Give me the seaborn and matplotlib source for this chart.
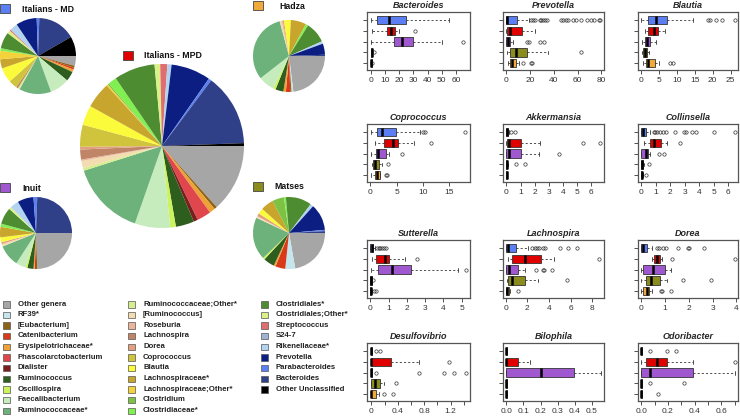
import matplotlib
matplotlib.use("Agg")
import matplotlib.pyplot as plt
from matplotlib.patches import Rectangle
import seaborn as sns

# ---- pie data: genus shares (in degrees), legend order ----
genera = ["Other genera", "RF39*", "[Eubacterium]", "Catenibacterium", "Erysipelotrichaceae*",
          "Phascolarctobacterium", "Dialister", "Ruminococcus", "Oscillospira", "Faecalibacterium",
          "Ruminococcaceae*", "Ruminococcaceae;Other*", "[Ruminococcus]", "Roseburia", "Lachnospira",
          "Dorea", "Coprococcus", "Blautia", "Lachnospiraceae*", "Lachnospiraceae;Other*",
          "Clostridium", "Clostridiaceae*", "Clostridiales*", "Clostridiales;Other*", "Streptococcus",
          "S24-7", "Rikenellaceae*", "Prevotella", "Parabacteroides", "Bacteroides", "Other Unclassified"]
genus_colors = ["#a6a6a6", "#c5e6ec", "#8c6418", "#d83a1a", "#eea236",
                "#e0474c", "#7a1e1e", "#2e5e1e", "#ccf25e", "#c6ecbe",
                "#6db27a", "#d6ee8e", "#f3dcb0", "#eab59a", "#c08466",
                "#e2a080", "#cfc43c", "#fbfb3c", "#c8a52c", "#f4d23a",
                "#7dc244", "#80f050", "#4e8c32", "#dcf08a", "#e06e6e",
                "#9fb4d4", "#b2d4f2", "#0c1e82", "#5c80f0", "#2f3f88", "#000000"]

md_share = [15, 0, 3, 3, 4, 0, 0, 15, 0, 30, 49, 3, 0, 0, 3, 0, 13, 23, 14, 13, 0, 4, 25, 5, 2, 0, 12, 32, 4, 58, 30]
mpd_share = [48, 0, 2, 0, 4, 10, 3, 13, 4, 25, 53, 2, 5, 1, 7, 2, 15.5, 14, 18.5, 1, 1, 6, 29, 4, 5, 0, 3, 28, 2, 51, 2]
hadza_share = [83, 3, 2, 7, 4, 0, 0, 13, 4, 26, 113, 0, 3, 2, 0, 2, 0, 11, 25, 0, 0, 4, 34, 0, 0, 0, 4, 18, 0, 2, 0]
inuit_share = [88, 0, 2, 2, 2, 0, 0, 10, 3, 16, 35, 0, 4, 0, 0, 3, 0, 8, 17, 0, 0, 5, 27, 4, 0, 0, 14, 26, 6, 88, 0]
matses_share = [80, 16, 0, 16, 3, 0, 0, 18, 3, 0, 69, 0, 3, 0, 0, 5, 0, 9, 21, 0, 19, 3, 42, 0, 0, 0, 5, 43, 2, 3, 0]

# ---- boxplot data: (whisker low, Q1, median, Q3, whisker high) per group ----
groups = ["Italians - MD", "Italians - MPD", "Inuit", "Matses", "Hadza"]
group_colors = ["#5b7ff2", "#e00000", "#a058d0", "#8a8c1e", "#f0aa3a"]

bacteroides_stats = [(0, 4, 13, 25, 55), (1, 11, 14, 17, 20), (0, 16, 22, 30, 50), (0, 0.2, 0.4, 0.6, 1.0), (0, 0.1, 0.2, 0.4, 0.6)]
bacteroides_out = [[], [31], [65], [2], [1]]
prevotella_stats = [(0, 0, 0.5, 9, 19), (0, 0.5, 3, 13, 24), (0, 0, 1, 3.5, 6), (0.5, 3, 8, 17, 35), (1.4, 3, 5, 8, 11)]
prevotella_out = [[21, 22.5, 24, 28, 29.5, 31, 32.5, 34, 46, 48, 50, 52, 56, 59, 63, 68, 71, 74, 78, 79],
                  [], [17, 19, 28, 32], [63], [14, 21, 22]]
blautia_stats = [(0, 2, 4.2, 7.2, 14.6), (1.1, 2, 3.6, 4.8, 6.5), (0.2, 0.9, 1.6, 2.5, 4.2), (0.2, 0.4, 0.9, 1.6, 2.2), (0.4, 1.4, 2, 3.9, 5)]
blautia_out = [[18.8, 19.3, 21, 22.5, 26.2], [], [], [], [8.1, 9]]
coprococcus_stats = [(0.2, 1.2, 2.2, 4.8, 9.4), (0.8, 2.6, 4.3, 5.3, 8.3), (0.2, 1, 1.5, 2.9, 3.5), (0.3, 0.5, 0.8, 1.6, 2.2), (0.2, 0.8, 1.2, 1.9, 1.9)]
coprococcus_out = [[10, 10.4, 18], [11.5], [6.1], [3.4], [3.0, 3.1]]
akkermansia_stats = [(0, 0, 0.02, 0.1, 0.2), (0, 0.05, 0.2, 1.05, 2.35), (0, 0, 0.15, 1.0, 2.3), (0, 0, 0.02, 0.05, 0.1), (0, 0, 0.01, 0.02, 0.03)]
akkermansia_out = [[0.35, 0.6], [5.4, 6.6], [3.7], [0.65, 1.3], []]
collinsella_stats = [(0, 0, 0.15, 0.32, 0.6), (0.2, 0.6, 0.87, 1.35, 1.8), (0, 0, 0.32, 0.45, 0.6), (0, 0, 0.02, 0.1, 0.2), (0, 0, 0.02, 0.08, 0.15)]
collinsella_out = [[0.85, 0.95, 1.1, 1.3, 1.5, 1.7, 2.35, 2.95, 3.1, 3.5, 3.8, 5.0, 6.45], [2.65], [1.2, 1.6], [0.55], [0.35]]
sutterella_stats = [(0, 0, 0.07, 0.15, 0.25), (0.1, 0.3, 0.8, 1.0, 1.9), (0.05, 0.42, 1.2, 2.25, 4.8), (0, 0, 0.03, 0.08, 0.12), (0, 0, 0.02, 0.05, 0.1)]
sutterella_out = [[0.35, 0.45, 0.55, 0.65, 0.75, 0.85], [2.55], [5.25], [0.17], [0.18, 0.3]]
lachnospira_stats = [(0, 0.05, 0.2, 0.92, 2.1), (0.2, 0.6, 1.75, 3.3, 4.5), (0, 0.05, 0.3, 1.15, 1.8), (0.1, 0.2, 0.6, 1.8, 3.0), (0, 0.05, 0.15, 0.3, 0.4)]
lachnospira_out = [[2.4, 2.7, 2.9, 3.1, 3.4, 3.6, 5.0, 5.8, 6.6], [8.6], [2.8, 3.4, 3.5, 4.3], [5.7], [1.15]]
dorea_stats = [(0, 0, 0.07, 0.25, 0.45), (0.45, 0.52, 0.65, 0.8, 0.85), (0, 0.05, 0.5, 0.98, 1.25), (0, 0.2, 0.4, 0.8, 1.1), (0, 0.05, 0.23, 0.33, 0.45)]
dorea_out = [[0.65, 0.75, 0.9, 1.05, 1.55, 1.95, 2.0, 2.65], [1.3, 3.93], [], [1.75, 2.93], [0.82, 0.88, 1.25]]
desulfovibrio_stats = [(0, 0, 0, 0.01, 0.01), (0, 0, 0, 0.29, 0.72), (0, 0, 0, 0.01, 0.01), (0, 0, 0.06, 0.13, 0.19), (0, 0, 0, 0.075, 0.11)]
desulfovibrio_out = [[0.065, 0.135], [1.18], [0.065, 0.72, 1.1, 1.25, 1.43], [0.38], [0.19, 0.33]]
bilophila_stats = [(0, 0, 0, 0.002, 0.004), (0, 0, 0, 0.068, 0.14), (0, 0, 0.2, 0.395, 0.555), (0, 0, 0, 0.002, 0.004), (0, 0, 0, 0.002, 0.004)]
bilophila_out = [[], [], [], [], []]
odoribacter_stats = [(0, 0, 0, 0.003, 0.005), (0, 0.035, 0.12, 0.19, 0.385), (0, 0, 0.067, 0.385, 0.7), (0, 0, 0, 0.003, 0.005), (0, 0, 0, 0.002, 0.004)]
odoribacter_out = [[0.062, 0.19, 0.26], [0.7], [], [0.062, 0.32], [0.124]]

panels = [
    ("Bacteroides", bacteroides_stats, bacteroides_out, (-2.8, 70), [0, 10, 20, 30, 40, 50, 60], []),
    ("Prevotella", prevotella_stats, prevotella_out, (-2.8, 82.2), [0, 20, 40, 60, 80], []),
    ("Blautia", blautia_stats, blautia_out, (-0.93, 27.1), [0, 5, 10, 15, 20, 25], []),
    ("Coprococcus", coprococcus_stats, coprococcus_out, (-0.64, 18.95), [0, 5, 10, 15], []),
    ("Akkermansia", akkermansia_stats, akkermansia_out, (-0.24, 6.9), [0, 1, 2, 3, 4, 5, 6], []),
    ("Collinsella", collinsella_stats, collinsella_out, (-0.23, 6.69), [0, 1, 2, 3, 4, 5, 6], []),
    ("Sutterella", sutterella_stats, sutterella_out, (-0.18, 5.46), [0, 1, 2, 3, 4, 5], []),
    ("Lachnospira", lachnospira_stats, lachnospira_out, (-0.25, 9.08), [0, 2, 4, 6, 8], []),
    ("Dorea", dorea_stats, dorea_out, (-0.14, 4.07), [0, 1, 2, 3, 4], []),
    ("Desulfovibrio", desulfovibrio_stats, desulfovibrio_out, (-0.066, 1.494), [0.0, 0.4, 0.8, 1.2], [0.2, 0.6, 1.0, 1.4]),
    ("Bilophila", bilophila_stats, bilophila_out, (-0.019, 0.57), [0.0, 0.1, 0.2, 0.3, 0.4, 0.5], []),
    ("Odoribacter", odoribacter_stats, odoribacter_out, (-0.025, 0.725), [0.0, 0.2, 0.4, 0.6], [0.1, 0.3, 0.5, 0.7]),
]

sns.set_style("white")
plt.rcParams['font.family'] = ['Liberation Sans', 'DejaVu Sans']

W, H = 740, 417
fig = plt.figure(figsize=(W / 100, H / 100), dpi=100)

# overlay in pixel coordinates for labels and legend
ov = fig.add_axes([0, 0, 1, 1])
ov.set_xlim(0, W)
ov.set_ylim(H, 0)
ov.axis('off')

# ---- pies ----
pies = [
    ("Italians - MD", md_share, group_colors[0], (38, 56, 38), (0, 4), (22, 9)),
    ("Italians - MPD", mpd_share, group_colors[1], (162, 146, 82), (123, 51), (144, 55)),
    ("Hadza", hadza_share, group_colors[4], (289, 56, 36), (253, 1), (279, 6)),
    ("Inuit", inuit_share, group_colors[2], (36, 233, 36), (0, 183), (22, 188)),
    ("Matses", matses_share, group_colors[3], (289, 233, 36), (253, 182), (274, 186)),
]
for name, share, col, (cx, cy, r), sq, tx in pies:
    ax = fig.add_axes([(cx - r) / W, 1 - (cy + r) / H, 2 * r / W, 2 * r / H])
    ax.pie(share, colors=genus_colors, startangle=0, counterclock=False,
           wedgeprops=dict(linewidth=0))
    ax.set_xlim(-1, 1)
    ax.set_ylim(-1, 1)
    ov.add_patch(Rectangle(sq, 10, 9, facecolor=col, edgecolor="#444444", linewidth=0.6))
    ov.text(tx[0], tx[1], name, fontsize=6.3, fontweight='bold', va='center', ha='left', color='#111111')

# ---- genus legend ----
col_x = [3, 128, 261]
per_col = [11, 11, 9]
k = 0
for c, n in enumerate(per_col):
    for i in range(n):
        y = 304 + i * 10.65
        ov.add_patch(Rectangle((col_x[c], y - 3), 6.5, 6.5, facecolor=genus_colors[k],
                               edgecolor="#555555", linewidth=0.5))
        ov.text(col_x[c] + 15, y, genera[k], fontsize=5.6, fontweight='bold', va='center',
                ha='left', color='#222222')
        k += 1

# ---- boxplot panels ----
cols_left = [367, 503, 638]
cols_w = [103, 101, 100]
rows_top = [12, 124, 240, 343]
box_h = 58
for idx, (title, stats5, outs, xlim, ticks, minor) in enumerate(panels):
    r, c = divmod(idx, 3)
    ax = fig.add_axes([cols_left[c] / W, 1 - (rows_top[r] + box_h) / H, cols_w[c] / W, box_h / H])
    bstats = []
    for (lo, q1, med, q3, hi), fl in zip(stats5, outs):
        bstats.append(dict(whislo=lo, q1=q1, med=med, q3=q3, whishi=hi, fliers=fl))
    kw = dict(positions=[1, 2, 3, 4, 5], widths=0.74, patch_artist=True,
              boxprops=dict(edgecolor='#333333', linewidth=0.6),
              medianprops=dict(color='black', linewidth=1.8, solid_capstyle='butt'),
              whiskerprops=dict(color='#333333', linewidth=0.6, linestyle=(0, (2.5, 2.5))),
              capprops=dict(color='#333333', linewidth=0.6),
              capwidths=0.36,
              flierprops=dict(marker='o', markersize=2.4, markerfacecolor='none',
                              markeredgecolor='#333333', markeredgewidth=0.5))
    try:
        res = ax.bxp(bstats, orientation='horizontal', **kw)
    except TypeError:
        res = ax.bxp(bstats, vert=False, **kw)
    for patch, colr in zip(res['boxes'], group_colors):
        patch.set_facecolor(colr)
    ax.set_xlim(*xlim)
    ax.set_ylim(5.6, 0.3)
    ax.set_xticks(ticks)
    ax.set_xticklabels([("%g" % t) if max(ticks) >= 1 else ("%.1f" % t) for t in ticks])
    if minor:
        ax.set_xticks(minor, minor=True)
    ax.set_yticks([1, 2, 3, 4, 5])
    ax.set_yticklabels([])
    ax.tick_params(axis='both', which='both', direction='out', length=3, width=0.6,
                   labelsize=6, colors='#333333', pad=2, bottom=True, left=True)
    for s in ax.spines.values():
        s.set_color('#555555')
        s.set_linewidth(0.9)
    ax.set_title(title, fontsize=6.5, fontweight='bold', fontstyle='italic', pad=3)

fig.savefig("out.png", dpi=100)
